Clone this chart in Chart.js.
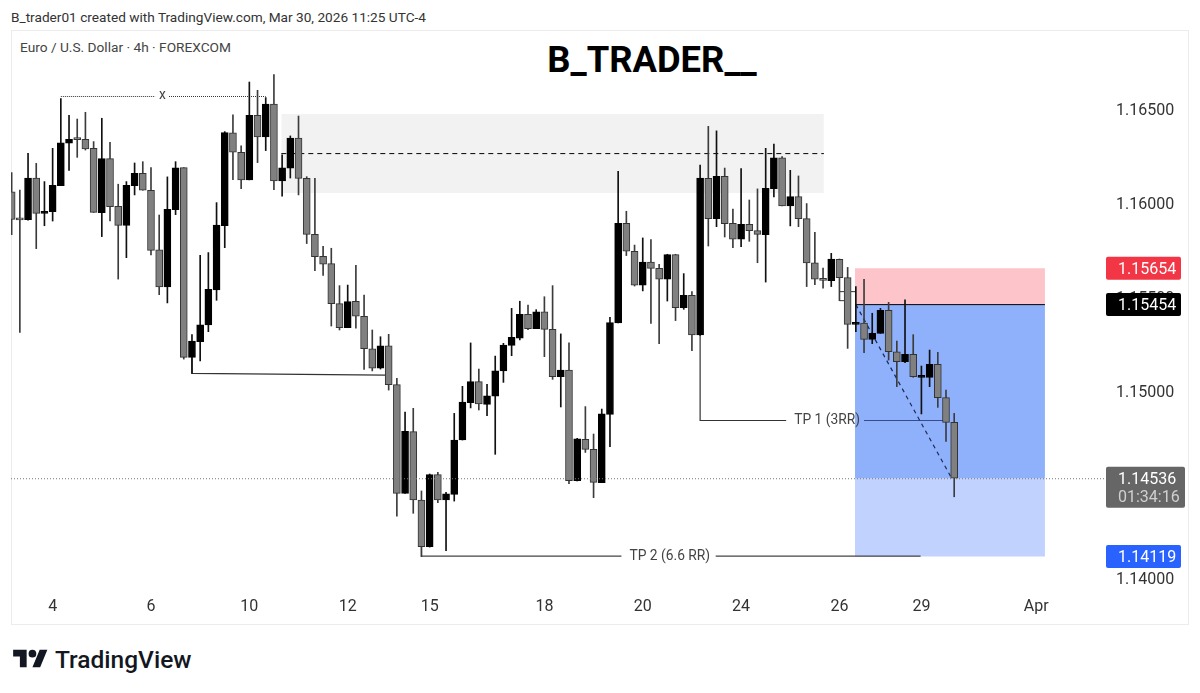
<!DOCTYPE html>
<html>
<head>
<meta charset="utf-8">
<title>EUR/USD 4h</title>
<script src="https://cdn.jsdelivr.net/npm/chart.js@4/dist/chart.umd.min.js"></script>
<style>
  html, body { margin: 0; padding: 0; background: #fff; }
  body { position: relative; width: 1200px; height: 693px; overflow: hidden; font-family: Roboto, sans-serif; }
  .abs { position: absolute; white-space: nowrap; }
  #frame { left: 11px; top: 30px; width: 1176px; height: 593px; border: 1px solid #ececec; }
  #credit { left: 11px; top: 9px; font-size: 13.65px; line-height: 16px; color: #333; }
  #symbol { left: 20px; top: 39px; font-size: 13.7px; line-height: 16px; color: #444; }
  #headline { left: 452px; width: 400px; top: 38px; text-align: center; font-size: 36.4px; line-height: 44px; font-weight: 700; color: #000; }
  #logo { left: 13px; top: 646px; }
  #brand { left: 55px; top: 644px; font-size: 24.5px; line-height: 32px; font-weight: 500; color: #131722; }
  canvas { position: absolute; left: 0; top: 0; }
</style>
</head>
<body>
<div class="abs" id="frame"></div>
<div class="abs" id="credit">B_trader01 created with TradingView.com, Mar 30, 2026 11:25 UTC-4</div>
<div class="abs" id="symbol">Euro / U.S. Dollar · 4h · FOREXCOM</div>
<div class="abs" id="headline">B_TRADER__</div>
<svg class="abs" id="logo" width="35" height="27" viewBox="0 0 36 28"><path d="M14 22H7V11H0V4h14v18zM28 22h-8l7.5-18h8L28 22z" fill="#131722"/><circle cx="20" cy="8" r="4" fill="#131722"/></svg>
<div class="abs" id="brand">TradingView</div>
<canvas id="chart" width="1200" height="693"></canvas>

<script>
// Candles (one entry per 4h bar)
const opens = [
  1.16060,1.15914,1.15912,1.16134,1.15946,1.15955,1.16093,1.16319,1.16340,1.16340,
  1.16292,1.15950,1.16237,1.15983,1.15882,1.16093,1.16159,1.16069,1.15751,1.15554,
  1.15966,1.16189,1.15179,1.15263,1.15352,1.15538,1.15880,1.16374,1.16271,1.16124,
  1.16468,1.16353,1.16527,1.16118,1.16186,1.16346,1.16132,1.15834,1.15717,1.15678,
  1.15465,1.15337,1.15478,1.15398,1.15225,1.15121,1.15240,1.15034,1.14455,1.14784,
  1.14420,1.14171,1.14555,1.14420,1.14450,1.14739,1.14938,1.15050,1.14929,1.14973,
  1.15107,1.15243,1.15282,1.15408,1.15332,1.15422,1.15328,1.15076,1.15112,1.14523,
  1.14743,1.14689,1.14512,1.14876,1.15362,1.15893,1.15744,1.15563,1.15687,1.15653,
  1.15596,1.15726,1.15444,1.15509,1.15298,1.16132,1.15918,1.16143,1.15893,1.15808,
  1.15888,1.15854,1.15832,1.16077,1.16241,1.15985,1.16035,1.15918,1.15682,1.15595,
  1.15588,1.15701,1.15604,1.15355,1.15362,1.15275,1.15307,1.15430,1.15209,1.15156,
  1.15195,1.15073,1.15073,1.15142,1.14965,1.14833
];
const highs = [
  1.16163,1.16070,1.16266,1.16212,1.16115,1.16292,1.16557,1.16468,1.16448,1.16484,
  1.16328,1.16452,1.16324,1.16101,1.16115,1.16214,1.16221,1.16189,1.15937,1.16140,
  1.16221,1.16189,1.15300,1.15722,1.15737,1.16003,1.16381,1.16470,1.16306,1.16645,
  1.16601,1.16562,1.16685,1.16257,1.16358,1.16464,1.16141,1.16132,1.15770,1.15760,
  1.15561,1.15564,1.15669,1.15511,1.15325,1.15289,1.15302,1.15068,1.14888,1.14908,
  1.14468,1.14558,1.14567,1.14460,1.14881,1.15025,1.15256,1.15117,1.15036,1.15186,
  1.15254,1.15440,1.15478,1.15458,1.15433,1.15502,1.15561,1.15304,1.15256,1.14748,
  1.14917,1.14771,1.14904,1.15392,1.16170,1.15957,1.15777,1.15815,1.15806,1.15675,
  1.15728,1.15728,1.15625,1.15529,1.16203,1.16409,1.16385,1.16187,1.15969,1.16184,
  1.16017,1.16076,1.16292,1.16315,1.16248,1.16175,1.16145,1.15998,1.15845,1.15655,
  1.15733,1.15703,1.15658,1.15556,1.15595,1.15414,1.15440,1.15472,1.15266,1.15485,
  1.15300,1.15133,1.15218,1.15206,1.15005,1.14881
];
const lows = [
  1.15833,1.15312,1.15910,1.15758,1.15880,1.15905,1.16093,1.16175,1.16244,1.16283,
  1.15951,1.15822,1.15905,1.15596,1.15710,1.16044,1.16069,1.15724,1.15513,1.15469,
  1.15939,1.15170,1.15094,1.15160,1.15316,1.15483,1.15763,1.16125,1.16077,1.16124,
  1.16216,1.16280,1.16072,1.16038,1.16134,1.16044,1.15785,1.15641,1.15616,1.15346,
  1.15325,1.15337,1.15335,1.15115,1.15107,1.15117,1.15005,1.14334,1.14455,1.14349,
  1.14118,1.14169,1.14405,1.14150,1.14414,1.14739,1.14910,1.14899,1.14869,1.14663,
  1.15046,1.15188,1.15272,1.15327,1.15332,1.15183,1.15062,1.14915,1.14507,1.14521,
  1.14673,1.14432,1.14512,1.14704,1.15362,1.15721,1.15559,1.15533,1.15360,1.15252,
  1.15479,1.15375,1.15435,1.15215,1.15296,1.15772,1.15875,1.15820,1.15763,1.15769,
  1.15797,1.15683,1.15580,1.16033,1.15985,1.15879,1.15875,1.15556,1.15566,1.15547,
  1.15556,1.15481,1.15227,1.15316,1.15204,1.15252,1.15307,1.15165,1.15023,1.15151,
  1.15073,1.14878,1.15023,1.14913,1.14732,1.14437
];
const closes = [
  1.15914,1.15911,1.16134,1.15946,1.15957,1.16095,1.16321,1.16340,1.16338,1.16289,
  1.15951,1.16237,1.15982,1.15882,1.16095,1.16159,1.16069,1.15749,1.15554,1.15967,
  1.16188,1.15179,1.15266,1.15353,1.15541,1.15884,1.16376,1.16271,1.16124,1.16468,
  1.16353,1.16527,1.16118,1.16188,1.16346,1.16132,1.15834,1.15715,1.15675,1.15465,
  1.15337,1.15476,1.15398,1.15225,1.15121,1.15240,1.15034,1.14455,1.14785,1.14420,
  1.14171,1.14555,1.14420,1.14452,1.14739,1.14941,1.15050,1.14931,1.14975,1.15108,
  1.15245,1.15286,1.15408,1.15332,1.15422,1.15328,1.15076,1.15112,1.14523,1.14746,
  1.14689,1.14514,1.14878,1.15364,1.15893,1.15744,1.15563,1.15687,1.15653,1.15596,
  1.15726,1.15444,1.15509,1.15298,1.16134,1.15918,1.16143,1.15891,1.15808,1.15888,
  1.15854,1.15834,1.16079,1.16241,1.15985,1.16035,1.15918,1.15682,1.15595,1.15589,
  1.15703,1.15604,1.15355,1.15364,1.15275,1.15307,1.15430,1.15209,1.15156,1.15195,
  1.15076,1.15078,1.15142,1.14965,1.14833,1.14536
];

// Axis ticks: the x axis counts bars from the first candle
const dayTickBars = [5, 17, 29, 41, 51, 65, 77, 89, 101, 111, 125];
const dayTickLabels = ['4', '6', '10', '12', '15', '18', '20', '24', '26', '29', 'Apr'];
const priceTicks = [1.14, 1.15, 1.155, 1.16, 1.165];

// Position tool levels and the grey zone
const stopPrice = 1.15654;
const entryPrice = 1.1546;
const lastPrice = 1.14536;
const targetPrice = 1.14119;
const positionBars = [102.9, 126.07];
const zoneBars = [32.9, 99.1];
const zoneTop = 1.16475;
const zoneBottom = 1.16054;

// Hand drawn lines, [bar, price]
const zoneMidLine = [[32.9, 1.16264], [99.1, 1.16264]];
const highMarkLeft = [[6, 1.16568], [17.5, 1.16568]];
const highMarkRight = [[19.2, 1.16568], [31, 1.16568]];
const lowMarkLine = [[22, 1.15179], [22, 1.15094], [45.6, 1.15085]];
const tp1Left = [[84, 1.15298], [84, 1.14843], [94.5, 1.14843]];
const tp1Right = [[104, 1.14843], [113.9, 1.14843]];
const tp2Left = [[50, 1.14171], [50, 1.14121], [74.4, 1.14121]];
const tp2Right = [[85.9, 1.14121], [110.9, 1.14121]];
const slideLine = [[103, 1.1546], [114.7, 1.14535]];
const tickLineA = [[101, 1.15529], [103, 1.15529]];
const tickLineB = [[101, 1.15481], [102, 1.15481]];
const lastPriceLine = [[-0.08, 1.14533], [133.4, 1.14533]];

// Text sitting on the drawings, [text, bar, price]
const drawingLabels = [
  ['x', 18.4, 1.16574],
  ['TP 1 (3RR)', 99.5, 1.14843],
  ['TP 2 (6.6 RR)', 80.3, 1.14121]
];

// Price badges on the right axis, [text, price, colour]
const priceBadges = [
  ['1.15654', stopPrice, '#f23645'],
  ['1.15454', entryPrice, '#000000'],
  ['1.14119', targetPrice, '#2962ff']
];
const countdownText = '01:34:16';

const UP_COLOR = '#000000';
const DOWN_COLOR = '#808080';

function candleColor(i, up, down) {
  return closes[i] >= opens[i] ? up : down;
}

// Flat line between two prices, filled down to the second price
function zoneDataset(bars, top, bottom, color) {
  return {
    type: 'line',
    data: bars.map(b => ({ x: b, y: top })),
    fill: { value: bottom },
    backgroundColor: color,
    borderWidth: 0,
    pointRadius: 0,
    order: 10
  };
}

function lineDataset(points, color, width, dash, order) {
  return {
    type: 'line',
    data: points.map(p => ({ x: p[0], y: p[1] })),
    borderColor: color,
    borderWidth: width,
    borderDash: dash || [],
    pointRadius: 0,
    fill: false,
    tension: 0,
    order: order || 5
  };
}

const wickDataset = {
  type: 'bar',
  data: highs.map((h, i) => ({ x: i, y: [lows[i], h] })),
  backgroundColor: ctx => candleColor(ctx.dataIndex, '#111111', '#3c3c3c'),
  barThickness: 1,
  grouped: false,
  order: 3
};

const bodyDataset = {
  type: 'bar',
  data: opens.map((o, i) => ({ x: i, y: [Math.min(o, closes[i]), Math.max(o, closes[i])] })),
  backgroundColor: ctx => candleColor(ctx.dataIndex, UP_COLOR, DOWN_COLOR),
  borderColor: ctx => candleColor(ctx.dataIndex, UP_COLOR, '#333333'),
  borderWidth: 1,
  borderSkipped: false,
  barThickness: 7,
  minBarLength: 2,
  grouped: false,
  order: 2
};

// Labels and badges are not part of any dataset, so they go in here
const annotationPlugin = {
  id: 'annotationPlugin',
  afterDatasetsDraw(chart) {
    const { ctx, scales } = chart;
    ctx.save();
    ctx.font = '13.8px Roboto';
    ctx.fillStyle = '#444';
    ctx.textAlign = 'center';
    ctx.textBaseline = 'middle';
    drawingLabels.forEach(l => {
      ctx.fillText(l[0], scales.x.getPixelForValue(l[1]), scales.y.getPixelForValue(l[2]) + 0.5);
    });
    ctx.restore();
  },
  afterDraw(chart) {
    const { ctx, scales } = chart;
    ctx.save();
    ctx.font = '16px Roboto';
    ctx.textAlign = 'left';
    ctx.textBaseline = 'middle';

    priceBadges.forEach(b => {
      const y = scales.y.getPixelForValue(b[1]);
      ctx.fillStyle = b[2];
      ctx.beginPath();
      ctx.roundRect(1106, y - 11.5, 75, 23, 2);
      ctx.fill();
      ctx.fillStyle = '#fff';
      ctx.fillText(b[0], 1118, y + 1.5);
    });

    const lastY = scales.y.getPixelForValue(lastPrice);
    ctx.fillStyle = '#666666';
    ctx.beginPath();
    ctx.roundRect(1106, lastY - 11.5, 79, 41, 2);
    ctx.fill();
    ctx.fillStyle = '#fff';
    ctx.fillText(lastPrice.toFixed(5), 1118, lastY + 1.5);
    ctx.fillStyle = '#d0d0d0';
    ctx.fillText(countdownText, 1118, lastY + 19.5);
    ctx.restore();
  }
};

new Chart(document.getElementById('chart'), {
  type: 'bar',
  data: {
    datasets: [
      zoneDataset(zoneBars, zoneTop, zoneBottom, '#f2f2f2'),
      zoneDataset(positionBars, stopPrice, entryPrice, '#fdc5ca'),
      zoneDataset(positionBars, entryPrice, lastPrice, '#8fb0fb'),
      zoneDataset(positionBars, lastPrice, targetPrice, '#c1d2fe'),
      lineDataset([[positionBars[0], entryPrice], [positionBars[1], entryPrice]], '#000', 1, null, 6),
      lineDataset(zoneMidLine, '#000', 1, [5, 4]),
      lineDataset(highMarkLeft, '#333', 1, [1, 1]),
      lineDataset(highMarkRight, '#333', 1, [1, 1]),
      lineDataset(lowMarkLine, '#333', 1.2),
      lineDataset(tp1Left, '#333', 1.2),
      lineDataset(tp1Right, 'rgba(30,50,110,0.8)', 1.2),
      lineDataset(tp2Left, '#444', 1.2),
      lineDataset(tp2Right, '#444', 1.2),
      lineDataset(slideLine, '#1c2a55', 1.2, [4, 4]),
      lineDataset(tickLineA, '#333', 1),
      lineDataset(tickLineB, '#333', 1),
      lineDataset(lastPriceLine, '#777', 1, [1, 2], 1),
      bodyDataset,
      wickDataset
    ]
  },
  options: {
    responsive: false,
    animation: false,
    layout: { padding: { left: 11, right: 12, top: 30, bottom: 69 } },
    plugins: { legend: { display: false }, tooltip: { enabled: false } },
    scales: {
      x: {
        type: 'linear',
        offset: false,
        min: -0.08,
        max: 133.4,
        grid: { display: false, drawTicks: false },
        border: { display: false },
        afterBuildTicks: scale => { scale.ticks = dayTickBars.map(v => ({ value: v })); },
        afterFit: scale => { scale.height = 32; },
        ticks: {
          autoSkip: false,
          maxRotation: 0,
          padding: 5,
          color: '#333',
          font: { family: 'Roboto', size: 16 },
          callback: v => dayTickLabels[dayTickBars.indexOf(v)]
        }
      },
      y: {
        type: 'linear',
        position: 'right',
        min: 1.1393,
        max: 1.16922,
        grid: { display: false, drawTicks: false },
        border: { display: false },
        afterBuildTicks: scale => { scale.ticks = priceTicks.map(v => ({ value: v })); },
        afterFit: scale => { scale.width = 83; },
        ticks: {
          padding: 11,
          labelOffset: 1.5,
          color: '#333',
          font: { family: 'Roboto', size: 16 },
          callback: v => v.toFixed(5)
        }
      }
    }
  },
  plugins: [annotationPlugin]
});
</script>
</body>
</html>
